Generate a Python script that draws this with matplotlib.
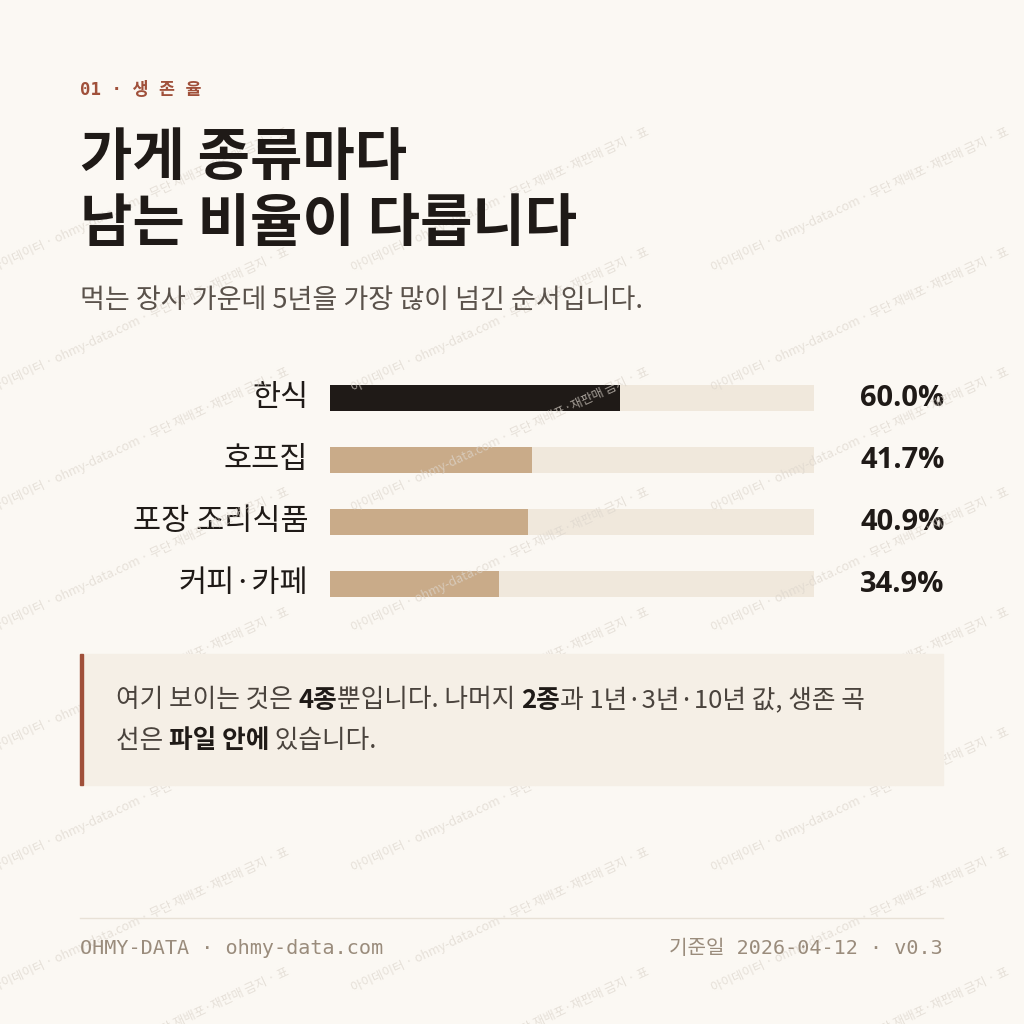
import matplotlib
matplotlib.use('Agg')
import matplotlib.pyplot as plt
import matplotlib.patches as mpatches

plt.rcParams['font.family'] = ['Noto Sans CJK KR', 'DejaVu Sans']

categories = ['한식', '호프집', '포장 조리식품', '커피·카페']
rates = [60.0, 41.7, 40.9, 34.9]
bar_colors = ['#1f1a17', '#c9ab89', '#c9ab89', '#c9ab89']

BG = '#fbf8f3'
W = H = 1024
fig = plt.figure(figsize=(10.24, 10.24), dpi=100, facecolor=BG)

def fx(px):
    return px / W

def fy(py):
    return 1 - py / H

# watermark
wm = '아이데이터 · ohmy-data.com · 무단 재배포·재판매 금지 · 표'
for row in range(0, 8):
    for col in range(0, 3):
        x = col * 360 - 10
        y = row * 120 + 200
        fig.text(fx(x), fy(y), wm, rotation=25, fontsize=9,
                 color='#ddd6cd', alpha=0.7, ha='left', va='center', zorder=0)

mono = ['DejaVu Sans Mono', 'Noto Sans CJK KR']
fig.text(fx(80), fy(90), '01 · 생 존 율', family=mono, fontsize=12.5, color='#a0503a',
         fontweight='bold', va='center')
fig.text(fx(80), fy(158), '가게 종류마다', fontsize=41, fontweight='bold', color='#1f1a17', va='center')
fig.text(fx(80), fy(224), '남는 비율이 다릅니다', fontsize=41, fontweight='bold', color='#1f1a17', va='center')
fig.text(fx(80), fy(301), '먹는 장사 가운데 5년을 가장 많이 넘긴 순서입니다.', fontsize=19.5,
         color='#5a524b', va='center')

# bars
ax = fig.add_axes([fx(330), fy(615), fx(814 - 330), (615 - 367) / H])
ax.set_facecolor('none')
ys = list(range(len(categories)))
ax.barh(ys, [100] * len(ys), height=0.42, color='#f0e8dc')
ax.barh(ys, rates, height=0.42, color=bar_colors)
ax.set_xlim(0, 100)
ax.set_ylim(len(ys) - 0.5, -0.5)
ax.axis('off')
for i, (c, v) in enumerate(zip(categories, rates)):
    ax.text(-4.5, i, c, ha='right', va='center', fontsize=22, color='#1f1a17')
    ax.text(127, i, f'{v:.1f}%', ha='right', va='center', fontsize=21,
            fontweight='bold', color='#1f1a17', family=['Open Sans', 'Noto Sans CJK KR'])

# callout
fig.patches.append(mpatches.Rectangle((fx(80), fy(785)), fx(943 - 80), (785 - 654) / H,
                                      transform=fig.transFigure, color='#f5efe6', zorder=1))
fig.patches.append(mpatches.Rectangle((fx(80), fy(785)), fx(3), (785 - 654) / H,
                                      transform=fig.transFigure, color='#a0503a', zorder=2))

renderer = fig.canvas.get_renderer()

def rich(x, y, parts):
    for s, bold in parts:
        t = fig.text(fx(x), fy(y), s, fontsize=18.5, color='#1f1a17' if bold else '#4a433d',
                     fontweight='bold' if bold else 'normal', va='center', zorder=3)
        bb = t.get_window_extent(renderer)
        x += bb.width

rich(116, 700, [('여기 보이는 것은 ', False), ('4종', True), ('뿐입니다. 나머지 ', False),
                ('2종', True), ('과 1년·3년·10년 값, 생존 곡', False)])
rich(116, 741, [('선은 ', False), ('파일 안에', True), (' 있습니다.', False)])

# footer
fig.lines.append(plt.Line2D([fx(80), fx(943)], [fy(918), fy(918)], transform=fig.transFigure,
                            color='#e8e1d6', lw=1))
fig.text(fx(80), fy(948), 'OHMY-DATA · ohmy-data.com', family=mono, fontsize=14.5,
         color='#9a8c7c', va='center')
fig.text(fx(943), fy(948), '기준일 2026-04-12 · v0.3', family=mono, fontsize=14.5,
         color='#9a8c7c', va='center', ha='right')

fig.savefig('out.png', dpi=100, facecolor=BG)
